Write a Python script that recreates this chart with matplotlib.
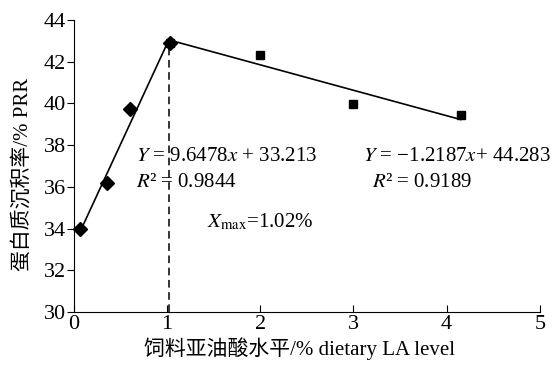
import numpy as np
import matplotlib.pyplot as plt

plt.rcParams['font.family'] = ['Liberation Serif', 'Noto Sans CJK SC']
plt.rcParams['mathtext.fontset'] = 'stix'

# rising segment (diamonds) and falling segment (squares)
la_up = [0.06, 0.35, 0.60, 1.03]
prr_up = [34.0, 36.2, 39.75, 42.9]
la_down = [1.03, 2.0, 3.0, 4.15]
prr_down = [42.9, 42.3, 39.95, 39.45]

k1, b1 = 9.6478, 33.213
k2, b2 = -1.2187, 44.283
x_max = 1.02

xticks = [0, 1, 2, 3, 4, 5]
yticks = [30, 32, 34, 36, 38, 40, 42, 44]

fig = plt.figure(figsize=(5.6, 3.68), dpi=100)
ax = fig.add_axes([0.132, 0.152, 0.832, 0.794])

x1 = np.array([la_up[0], x_max])
x2 = np.array([x_max, la_down[-1]])
ax.plot(x1, k1 * x1 + b1, color='black', lw=1.2)
ax.plot(x2, k2 * x2 + b2, color='black', lw=1.2)
ax.plot([x_max, x_max], [30, k1 * x_max + b1], color='black', lw=1.1,
        ls=(0, (5, 3)))

ax.plot(la_down, prr_down, 's', color='black', ms=6, clip_on=False)
ax.plot(la_up, prr_up, 'D', color='black', ms=7, clip_on=False)

ax.set_xlim(0, 5)
ax.set_ylim(30, 44)
ax.set_xticks(xticks)
ax.set_yticks(yticks)
ax.spines['top'].set_visible(False)
ax.spines['right'].set_visible(False)
ax.tick_params(axis='x', direction='in', length=5, labelsize=16, pad=2)
ax.tick_params(axis='y', direction='out', length=5, labelsize=16, pad=1)

ax.set_xlabel('饲料亚油酸水平/% dietary LA level', fontsize=15, labelpad=2)
ax.set_ylabel('蛋白质沉积率/% PRR', fontsize=15, labelpad=2)
ax.xaxis.set_label_coords(0.485, -0.085)
ax.yaxis.set_label_coords(-0.088, 0.47)

ax.text(0.67, 37.45, '$Y$ = 9.6478$x$ + 33.213', fontsize=15, va='center')
ax.text(0.67, 36.2, '$R$² = 0.9844', fontsize=15, va='center')
ax.text(3.1, 37.45, '$Y$ = \u22121.2187$x$+ 44.283', fontsize=15, va='center')
ax.text(3.74, 36.2, '$R$² = 0.9189', fontsize=15, va='center', ha='center')
ax.text(1.43, 34.3, '$X_{\\mathrm{max}}$=1.02%', fontsize=15, va='center')

fig.savefig('out.png', dpi=100)
